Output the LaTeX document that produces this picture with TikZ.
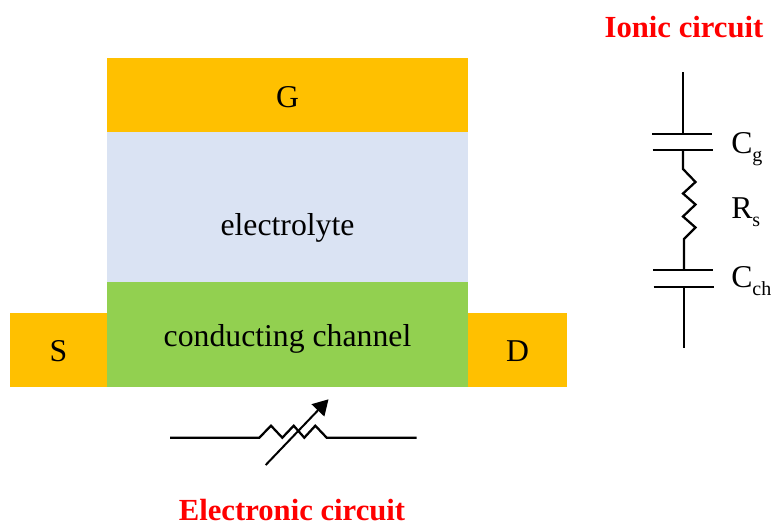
\documentclass[tikz,border=0pt]{standalone}
\usepackage{fontspec}
\setmainfont{Liberation Serif}
\usetikzlibrary{arrows.meta}
\definecolor{gold}{HTML}{FFC000}
\definecolor{elec}{HTML}{DAE3F3}
\definecolor{chan}{HTML}{92D050}
\tikzset{
  block/.style={inner sep=0pt,outer sep=0pt,minimum width=#1*0.75pt,anchor=north west},
  lab/.style={font=\fontsize{23.8}{26}\selectfont,inner sep=0pt,text=black,anchor=base},
  circ/.style={font=\fontsize{23.8}{26}\selectfont,inner sep=0pt,text=black,anchor=base west},
  head/.style={font=\fontsize{23}{25}\selectfont\bfseries,inner sep=0pt,text=red,anchor=base},
  wire/.style={line width=1.7pt,black,line join=miter}
}
\newcommand{\subt}[1]{\raisebox{-0.27em}{\fontsize{15}{16}\selectfont #1}}
\begin{document}
\begin{tikzpicture}[x=0.75pt,y=-0.75pt]
\useasboundingbox (0,0) rectangle (771,522);
\node[block=361,fill=elec,minimum height=113pt] (E) at (107,131) {};
\node[block=361,fill=gold,minimum height=55.2pt] (G) at (107,58) {};
\node[block=97,fill=gold,minimum height=55.5pt] (S) at (10,313) {};
\node[block=99,fill=gold,minimum height=55.5pt] (D) at (468,313) {};
\node[block=361,fill=chan,minimum height=79pt] (C) at (107,281.5) {};
\node[lab] (Gt) at (287.5,107) {G};
\node[lab] (Et) at (287.5,235) {electrolyte};
\node[lab] (Ct) at (287.5,346) {conducting channel};
\node[lab] (St) at (58.5,361) {S};
\node[lab] (Dt) at (517.5,361) {D};
\node[head] (H1) at (684,37) {Ionic circuit};
\node[head] (H2) at (292,520) {Electronic circuit};
\node[circ] (Cg) at (731,153) {C\subt{g}};
\node[circ] (Rs) at (731,218) {R\subt{s}};
\node[circ] (Cc) at (731,287) {C\subt{ch}};
% ionic circuit
\coordinate (a0) at (683,72);
\coordinate (a1) at (683,134);
\coordinate (a2) at (683,150);
\coordinate (a3) at (684,270);
\coordinate (a4) at (684,287);
\coordinate (a5) at (684,348);
\draw[wire] (a0) -- (a1);
\draw[wire] (652,134) -- (712,134);
\draw[wire] (652.5,150) -- (712.5,150);
\draw[wire] (a2) -- (683,169) -- (695.5,182) -- (683,193.5) -- (695.5,204.5) -- (683,216.5) -- (695.5,227.5) -- (684,239) -- (a3);
\draw[wire] (653,270) -- (713,270);
\draw[wire] (653.5,287) -- (713.5,287);
\draw[wire] (a4) -- (a5);
% electronic circuit
\coordinate (b0) at (170,437.7);
\coordinate (b1) at (416.7,437.7);
\coordinate (c0) at (265.7,465);
\coordinate (c1) at (328.5,399.3);
\draw[wire] (b0) -- (259.3,437.7) -- (271,425.7) -- (282.3,437.7) -- (293.7,425.7) -- (304.3,437.7) -- (315.3,425.7) -- (326.7,437.7) -- (b1);
\draw[line width=1.5pt,-{Triangle[length=11.5pt,width=13pt]}] (c0) -- (c1);
\end{tikzpicture}
\end{document}
